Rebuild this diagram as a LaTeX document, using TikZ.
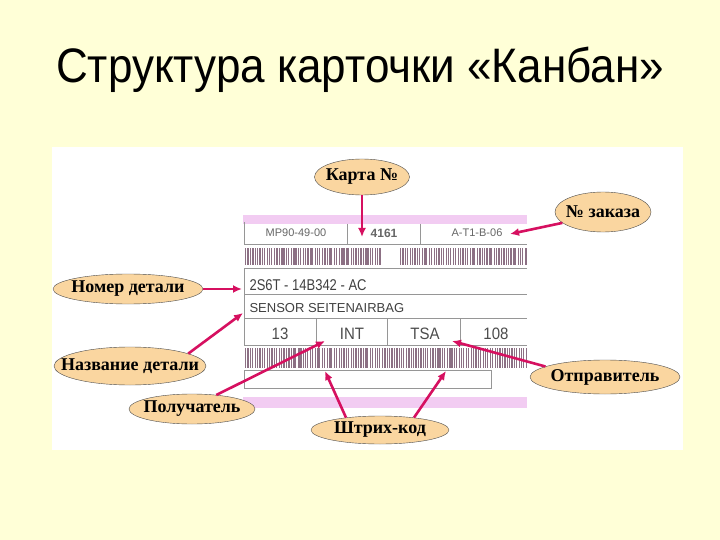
\documentclass[tikz,border=0pt]{standalone}
\usepackage{fontspec}
\setmainfont{Liberation Serif}
\setsansfont{Liberation Sans}
\usetikzlibrary{shapes.geometric,arrows.meta}

\definecolor{slidebg}{RGB}{255,255,215}
\definecolor{tagfill}{RGB}{250,214,160}
\definecolor{pointer}{RGB}{214,16,96}
\definecolor{stripe}{RGB}{242,204,242}
\definecolor{cardline}{RGB}{150,150,150}
\definecolor{bars}{RGB}{140,112,132}

\begin{document}
\begin{tikzpicture}
      [x=1pt,y=-1pt,
       tag/.style={ellipse,draw=black!70,fill=tagfill,inner xsep=-18pt,inner ysep=0pt,
         font=\fontsize{18}{19}\selectfont\bfseries},
       ptr/.style={draw=pointer,line width=2.6pt,-{Latex[length=9pt,width=8pt]}},
       cell/.style={draw=cardline,line width=0.9pt},
       val/.style={font=\sffamily\fontsize{11}{12}\selectfont,text=black!60}]
      \fill[slidebg] (0,0) rectangle (720,540);
      \node[font=\sffamily\fontsize{44}{48}\selectfont,yscale=1.1] (title) at (360,70)
        {Структура карточки «Канбан»};
      \fill[white] (52,147) rectangle (683,450);

      % card
      \fill[stripe] (243,215) rectangle (527,224);
      \fill[stripe] (243,397) rectangle (527,408);
      \draw[cell] (244,222) -- (244,244) -- (527,244);
      \draw[cell] (347,224) -- (347,244) (420,224) -- (420,244);
      \draw[cell] (527,268) -- (244,268) -- (244,345) -- (527,345);
      \draw[cell] (244,294) -- (527,294) (244,318) -- (527,318);
      \draw[cell] (316,318) -- (316,345) (387,318) -- (387,345)
                  (460,318) -- (460,345);
      \draw[cell] (244,370) rectangle (491,388);

      \pgfmathsetseed{7}
      \foreach \x in {245,247.4,...,380, 400,402.4,...,526}
        \fill[bars] (\x,248) rectangle ++({0.5+1.3*rnd},17);
      \foreach \x in {245,247.4,...,526}
        \fill[bars] (\x,348) rectangle ++({0.5+1.3*rnd},20);

      \node[val] (v1) at (296,233) {MP90-49-00};
      \node[val,font=\sffamily\fontsize{12}{13}\selectfont\bfseries] (v2) at (384,233) {4161};
      \node[val] (v3) at (477,233) {A-T1-B-06};
      \node[val,anchor=west,font=\sffamily\fontsize{13}{14}\selectfont,text=black!75,yscale=1.2] (v4) at (246,285) {2S6T - 14B342 - AC};
      \node[val,anchor=west,font=\sffamily\fontsize{13}{14}\selectfont,text=black!75] (v5) at (246,308) {SENSOR SEITENAIRBAG};
      \foreach \name/\x/\txt in {v6/280/13, v7/352/INT, v8/425/TSA, v9/496/108}
        \node[val,font=\sffamily\fontsize{15}{16}\selectfont,text=black!70,yscale=1.1] (\name) at (\x,334) {\txt};

      % labels
      \node[tag,minimum width=95pt,minimum height=36pt] (kart) at (362,177) {Карта №};
      \node[tag,minimum width=96pt,minimum height=40pt] (order) at (603,212) {№ заказа};
      \node[tag,minimum width=150pt,minimum height=30pt] (part) at (128,289) {Номер детали};
      \node[tag,minimum width=152pt,minimum height=38pt] (name) at (130,366) {Название детали};
      \node[tag,minimum width=126pt,minimum height=30pt] (recv) at (192,409) {Получатель};
      \node[tag,minimum width=138pt,minimum height=28pt] (bar) at (380,430) {Штрих-код};
      \node[tag,minimum width=150pt,minimum height=34pt] (send) at (605,377) {Отправитель};

      \coordinate (c-card) at (362,237);
      \coordinate (c-order) at (510,234);
      \coordinate (c-part) at (242,289);
      \coordinate (c-name) at (243,313);
      \coordinate (c-recv) at (325,341);
      \coordinate (c-bar1) at (325,371);
      \coordinate (c-bar2) at (446,371);
      \coordinate (c-send) at (452,341);

      \foreach \from/\to in {kart.south/c-card, order.195/c-order, part.east/c-part,
          name.12/c-name, recv.30/c-recv, bar.160/c-bar1, bar.20/c-bar2, send.170/c-send}
      \draw[ptr] (\from) -- (\to);
    \end{tikzpicture}
\end{document}
